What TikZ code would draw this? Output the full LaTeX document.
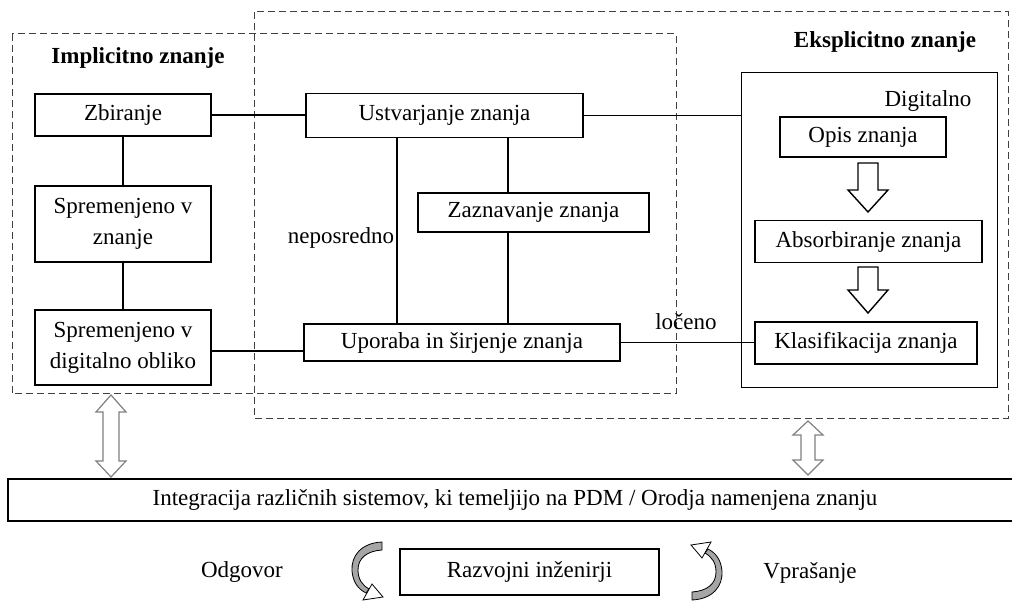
\documentclass[tikz,border=0pt]{standalone}
\usepackage{fontspec}
\setmainfont{Liberation Serif}
\usetikzlibrary{calc}
\begin{document}
\begin{tikzpicture}[x=1pt,y=-1pt,
  box/.style={draw,line width=1.6pt,inner sep=0pt,align=center,
    font=\fontsize{23}{31}\selectfont},
  lbl/.style={inner sep=0pt,font=\fontsize{23}{27}\selectfont},
  title/.style={inner sep=0pt,font=\fontsize{23}{27}\selectfont\bfseries},
  link/.style={line width=1.6pt},
  zone/.style={draw=black!75,line width=1pt,dash pattern=on 7pt off 4pt},
  blockarrow/.style={draw,line width=1.4pt,fill=white,line join=miter},
  twoway/.style={draw=black!50,line width=1.2pt,fill=white,line join=miter},
  pics/turnarrow/.style={code={
    % tapered curved body
    \filldraw[draw=black,line width=0.8pt,fill=black!35]
      (15,-29) .. controls (-6,-28) and (-16,-15) .. (-15,0)
      .. controls (-14,11) and (-9,18) .. (-1,22)
      -- (2,18)
      .. controls (-5,14) and (-9,8) .. (-9,-1)
      .. controls (-9,-13) and (0,-20) .. (15,-21) -- cycle;
    % arrow head
    \filldraw[draw=black,line width=0.8pt,fill=white,line join=miter]
      (-4,29) -- (16,26) -- (5,13) -- cycle;
  }}]
\useasboundingbox (0,0) rectangle (1012,601);

% knowledge zones
\draw[zone] (12,34) rectangle (676,394);
\draw[zone] (254,12) rectangle (1008,418);
\node[title] (impl) at (138,58) {Implicitno znanje};
\node[title] (ekspl) at (885,42) {Eksplicitno znanje};

% tacit knowledge column
\node[box,minimum width=176pt,minimum height=42pt] (zb) at (123,115) {Zbiranje};
\node[box,minimum width=176pt,minimum height=76pt] (sz) at (123,224) {Spremenjeno v\\znanje};
\node[box,minimum width=176pt,minimum height=75pt] (sd) at (123,347.5) {Spremenjeno v\\digitalno obliko};

% middle column
\node[box,minimum width=277pt,minimum height=44pt] (us) at (444.5,115.5) {Ustvarjanje znanja};
\node[box,minimum width=231pt,minimum height=39pt] (za) at (533.5,212.5) {Zaznavanje znanja};
\node[box,minimum width=316pt,minimum height=37pt] (up) at (462,342.5) {Uporaba in širjenje znanja};
\node[lbl] (nep) at (341,238) {neposredno};
\node[lbl] (loc) at (686,322) {ločeno};

% digital block
\node[draw,line width=1pt,minimum width=256pt,minimum height=315pt,inner sep=0pt] (dig) at (869,230.5) {};
\node[lbl] (digl) at (928,101) {Digitalno};
\node[box,minimum width=166pt,minimum height=40pt] (op) at (863,137) {Opis znanja};
\node[box,minimum width=227pt,minimum height=42pt] (ab) at (868.5,241.5) {Absorbiranje znanja};
\node[box,minimum width=222pt,minimum height=42pt] (kl) at (866,343) {Klasifikacija znanja};

% bottom row
\node[box,minimum width=1014pt,minimum height=42pt] (int) at (515,500)
  {Integracija različnih sistemov, ki temeljijo na PDM / Orodja namenjena znanju};
\node[box,minimum width=259pt,minimum height=46pt] (rz) at (529.5,572) {Razvojni inženirji};
\node[lbl] (odg) at (242,572) {Odgovor};
\node[lbl] (vpr) at (810,573) {Vprašanje};

% connectors
\coordinate (v1) at (397,0);
\coordinate (v2) at (508,0);
\draw[link] (zb.east) -- (zb.east -| us.west);
\draw[link] (us.east) -- (us.east -| dig.west);
\draw[link] (zb.south) -- (sz.north);
\draw[link] (sz.south) -- (sd.north);
\draw[link] ([yshift=-3.5pt]sd.east) -- ([yshift=-3.5pt]sd.east -| up.west);
\draw[link] (up.east) -- (up.east -| kl.west);
\draw[link] (v1 |- us.south) -- (v1 |- up.north);
\draw[link] (v2 |- us.south) -- (v2 |- za.north);
\draw[link] (v2 |- za.south) -- (v2 |- up.north);

% flow arrows inside the digital block
\draw[blockarrow] (858,163) -- (878,163) -- (878,190) -- (888,190) -- (868,212)
  -- (848,190) -- (858,190) -- cycle;
\draw[blockarrow] (858,267) -- (878,267) -- (878,290) -- (888,290) -- (868,313)
  -- (848,290) -- (858,290) -- cycle;

% two-way arrows to the integration layer
\draw[twoway] (111,395) -- (126,412) -- (119,412) -- (119,461) -- (126,461) -- (111,477)
  -- (96,461) -- (103,461) -- (103,412) -- (96,412) -- cycle;
\draw[twoway] (808,421) -- (823,435) -- (815,435) -- (815,460) -- (823,460) -- (808,475)
  -- (793,460) -- (801,460) -- (801,435) -- (793,435) -- cycle;

% answer / question cycle
\pic at (367,571) {turnarrow};
\pic[rotate=180] at (707,571) {turnarrow};
\end{tikzpicture}
\end{document}
